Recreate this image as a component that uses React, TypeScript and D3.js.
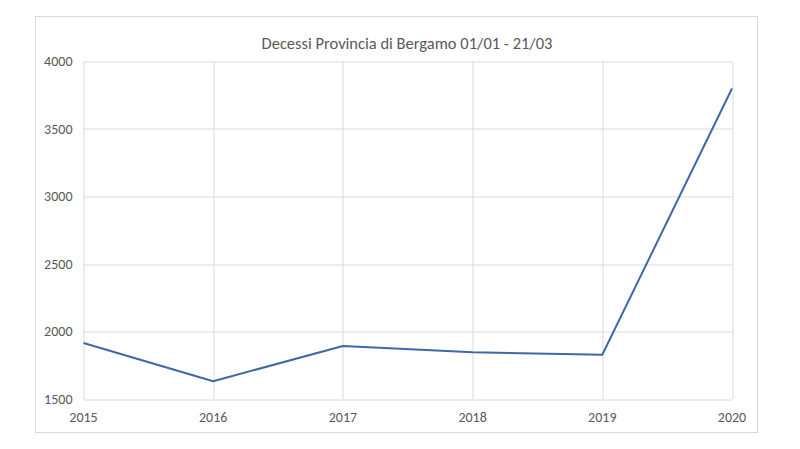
import React, { useRef, useEffect } from "react";
import * as d3 from "d3";

const years = [2015, 2016, 2017, 2018, 2019, 2020];
const deaths = [1915, 1632, 1893, 1846, 1828, 3800];
const yTicks = [1500, 2000, 2500, 3000, 3500, 4000];
const title = "Decessi Provincia di Bergamo 01/01 - 21/03";

const App: React.FC = () => {
  const ref = useRef<SVGSVGElement | null>(null);

  useEffect(() => {
    const width = 800;
    const height = 449;
    const margin = { top: 61.5, right: 68, bottom: 50, left: 83.5 };
    const w = width - margin.left - margin.right;
    const h = height - margin.top - margin.bottom;
    const font = "Carlito, 'Open Sans', 'Noto Sans', sans-serif";
    const textColor = "#595959";
    const gridColor = "#d9d9d9";

    d3.select(ref.current).selectAll("*").remove();

    // body has an 8px margin, pin the svg to the page corner
    const root = d3
      .select(ref.current)
      .attr("width", width)
      .attr("height", height)
      .style("position", "absolute")
      .style("left", "0px")
      .style("top", "0px");

    root.append("rect").attr("width", width).attr("height", height).attr("fill", "#fff");

    // outer chart border
    root
      .append("rect")
      .attr("x", 35.5)
      .attr("y", 16.5)
      .attr("width", 722)
      .attr("height", 416)
      .attr("fill", "none")
      .attr("stroke", gridColor)
      .attr("stroke-width", 1);

    root
      .append("text")
      .attr("x", 407)
      .attr("y", 49)
      .attr("text-anchor", "middle")
      .attr("fill", textColor)
      .style("font-family", font)
      .style("font-size", "16.5px")
      .text(title);

    const svg = root.append("g").attr("transform", `translate(${margin.left},${margin.top})`);

    const x = d3.scaleLinear().domain([2015, 2020]).range([0, w]);
    const y = d3.scaleLinear().domain([1500, 4000]).range([h, 0]);

    // horizontal gridlines
    svg
      .append("g")
      .selectAll("line")
      .data(yTicks)
      .enter()
      .append("line")
      .attr("x1", 0)
      .attr("x2", w)
      .attr("y1", (d) => Math.round(y(d)) + 0.5)
      .attr("y2", (d) => Math.round(y(d)) + 0.5)
      .attr("stroke", gridColor);

    // vertical gridlines
    svg
      .append("g")
      .selectAll("line")
      .data(years)
      .enter()
      .append("line")
      .attr("x1", (d) => Math.round(x(d)) + 0.5)
      .attr("x2", (d) => Math.round(x(d)) + 0.5)
      .attr("y1", 0)
      .attr("y2", h)
      .attr("stroke", gridColor);

    // y labels
    svg
      .append("g")
      .selectAll("text")
      .data(yTicks)
      .enter()
      .append("text")
      .attr("x", -11)
      .attr("y", (d) => y(d))
      .attr("dy", "0.35em")
      .attr("text-anchor", "end")
      .attr("fill", textColor)
      .style("font-family", font)
      .style("font-size", "14px")
      .text((d) => d);

    // x labels
    svg
      .append("g")
      .selectAll("text")
      .data(years)
      .enter()
      .append("text")
      .attr("x", (d) => x(d))
      .attr("y", h + 18)
      .attr("dy", "0.35em")
      .attr("text-anchor", "middle")
      .attr("fill", textColor)
      .style("font-family", font)
      .style("font-size", "14px")
      .text((d) => d);

    const line = d3
      .line<number>()
      .x((_, i) => x(years[i]))
      .y((d) => y(d));

    svg
      .append("path")
      .datum(deaths)
      .attr("fill", "none")
      .attr("stroke", "#4067a8")
      .attr("stroke-width", 2)
      .attr("stroke-linejoin", "round")
      .attr("d", line);
  }, []);

  return <svg ref={ref} />;
};

export default App;
